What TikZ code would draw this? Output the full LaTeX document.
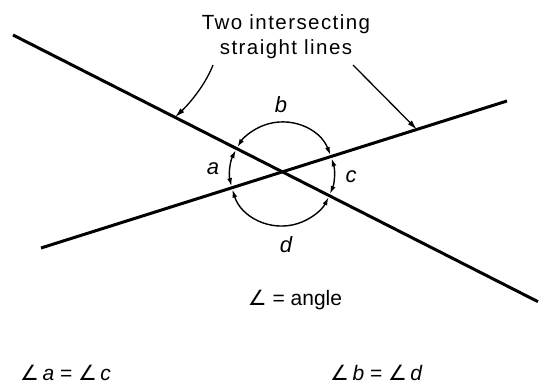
\documentclass[tikz,border=0pt]{standalone}
\usepackage{fontspec}
\setmainfont{Liberation Sans}
\newfontfamily\symfont{DejaVu Sans}
\newfontfamily\titlefont[LetterSpace=7]{Liberation Sans}
\usetikzlibrary{arrows.meta}
\newcommand{\ang}{{\symfont ∠}}
\begin{document}
\begin{tikzpicture}[x=1pt,y=1pt,
  mainline/.style={line width=3pt},
  arcarrow/.style={line width=1.4pt,{Latex[length=8pt,width=5pt]}-{Latex[length=8pt,width=5pt]}},
  callout/.style={line width=1.3pt,-{Latex[length=10pt,width=5.5pt]}},
  titletext/.style={font=\titlefont\fontsize{20.5}{24}\selectfont,inner sep=0pt},
  lbl/.style={font=\fontsize{22}{26}\selectfont\itshape,inner sep=0pt},
  eqtext/.style={font=\fontsize{21}{25}\selectfont,inner sep=0pt}]
\useasboundingbox (0,0) rectangle (540,388);
% lines
\coordinate (L1a) at (13,353);
\coordinate (L1b) at (538,86.3);
\coordinate (L2a) at (41,140);
\coordinate (L2b) at (507,287);
\draw[mainline] (L1a) -- (L1b);
\draw[mainline] (L2a) -- (L2b);
% circle centre
\coordinate (C) at (282,214);
\draw[arcarrow] (C) ++(21.5:52) arc[start angle=21.5,end angle=148.8,radius=52];
\draw[arcarrow] (C) ++(152.8:52) arc[start angle=152.8,end angle=193.5,radius=52];
\draw[arcarrow] (C) ++(197.5:52) arc[start angle=197.5,end angle=333.4,radius=52];
\draw[arcarrow] (C) ++(-22.6:52) arc[start angle=-22.6,end angle=17.5,radius=52];
% labels
\node[lbl] (b) at (281,283) {b};
\node[lbl] (a) at (213,219) {a};
\node[lbl] (c) at (351,211) {c};
\node[lbl] (d) at (286,143) {d};
% title
\node[titletext,anchor=base] (t1) at (286,358) {Two intersecting};
\node[titletext,anchor=base] (t2) at (286,333) {straight lines};
\coordinate (P1) at (175,270.7);
\coordinate (P2) at (417,258.4);
\draw[callout] (213,323) .. controls (206,305) and (192,287) .. (P1);
\draw[callout] (353,323) -- (P2);
% equations
\node[eqtext,anchor=base] (def) at (295,82) {\ang\ = angle};
\node[eqtext,anchor=base west] (eq1) at (20,8) {\ang\,\textit{a} = \ang\,\textit{c}};
\node[eqtext,anchor=base west] (eq2) at (330,8) {\ang\,\textit{b} = \ang\,\textit{d}};
\end{tikzpicture}
\end{document}
